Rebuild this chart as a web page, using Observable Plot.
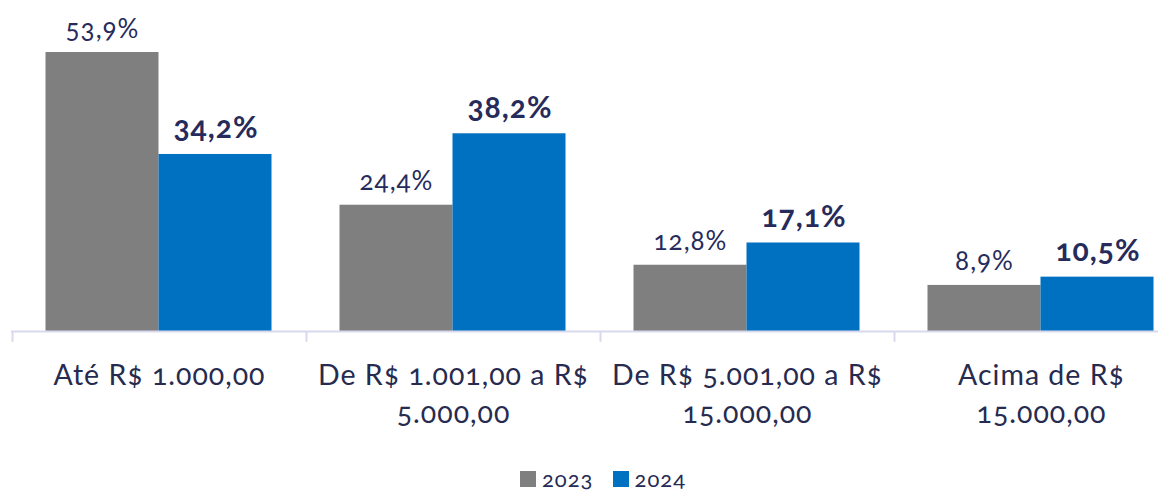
<!DOCTYPE html>
<html>
<head>
<meta charset="utf-8">
<script src="https://cdn.jsdelivr.net/npm/d3@7"></script>
<script src="https://cdn.jsdelivr.net/npm/@observablehq/plot@0.6"></script>
<style>
  html, body { margin: 0; padding: 0; background: #fff; }
  #chart { position: relative; width: 1176px; height: 493px; overflow: hidden; font-family: Lato, "Open Sans", sans-serif; }
  #legend { position: absolute; left: 0; top: 467px; width: 1176px; height: 24px; line-height: 24px; display: flex; justify-content: center; align-items: center; gap: 19px; font-family: Lato, sans-serif; font-size: 22px; letter-spacing: 1px; color: #262b55; padding-left: 30px; box-sizing: border-box; font-variant-numeric: oldstyle-nums; }
  #legend .item { display: flex; align-items: center; gap: 6px; }
  #legend .sw { width: 16px; height: 16px; display: inline-block; }
</style>
</head>
<body>
<div id="chart"></div>
<script>
const categories = ["Até R$ 1.000,00", "De R$ 1.001,00 a R$ 5.000,00", "De R$ 5.001,00 a R$ 15.000,00", "Acima de R$ 15.000,00"];
const categoryLabels = ["Até R$ 1.000,00", "De R$ 1.001,00 a R$\n5.000,00", "De R$ 5.001,00 a R$\n15.000,00", "Acima de R$\n15.000,00"];
const series = ["2023", "2024"];
const values2023 = [53.9, 24.4, 12.8, 8.9];
const values2024 = [34.2, 38.2, 17.1, 10.5];
const colors = ["#7f7f7f", "#0070c0"];

const fmt = v => v.toFixed(1).replace(".", ",") + "%";
const rows2023 = categories.map((c, i) => ({cat: c, value: values2023[i], label: categoryLabels[i]}));
const rows2024 = categories.map((c, i) => ({cat: c, value: values2024[i], label: categoryLabels[i]}));

const base = 331;
const pxPerUnit = 5.176;
const band = 294;
const axisColor = "#d9d9ee";

const plot = Plot.plot({
  width: 1176,
  height: 460,
  marginLeft: 0, marginRight: 0, marginTop: 0, marginBottom: 0,
  style: {fontFamily: "Lato, 'Open Sans', sans-serif", overflow: "visible", fontVariantNumeric: "oldstyle-nums", letterSpacing: "1px"},
  x: {type: "band", domain: categories, range: [12, 12 + band * 4], padding: 0, axis: null},
  y: {domain: [0, 60], range: [base, base - 60 * pxPerUnit], axis: null},
  marks: [
    Plot.barY(rows2023, {x: "cat", y: "value", fill: colors[0], insetLeft: 33.5, insetRight: 147.5}),
    Plot.barY(rows2024, {x: "cat", y: "value", fill: colors[1], insetLeft: 146.5, insetRight: 34.5}),
    Plot.text(rows2023, {x: "cat", y: "value", text: d => fmt(d.value), dx: -57, dy: -15, lineAnchor: "bottom", fontSize: 26, fill: "#262b5c"}),
    Plot.text(rows2024, {x: "cat", y: "value", text: d => fmt(d.value), dx: 56.5, dy: -16, lineAnchor: "bottom", fontSize: 30, fontWeight: "bold", fill: "#262b5c"}),
    Plot.ruleY([0], {insetLeft: 11, insetRight: 18, stroke: axisColor, strokeWidth: 2}),
    Plot.ruleX(categories, {x: d => d, dx: -band / 2, y1: 0, y2: -2.1, stroke: axisColor, strokeWidth: 2}),
    Plot.text(rows2023, {x: "cat", y: () => 0, text: "label", dy: 26, lineAnchor: "top", fontSize: 28.5, lineHeight: 1.34, fill: "#262b4f"})
  ]
});
document.getElementById("chart").appendChild(plot);

const legend = document.createElement("div");
legend.id = "legend";
series.forEach((s, i) => {
  const it = document.createElement("span");
  it.className = "item";
  it.innerHTML = `<span class="sw" style="background:${colors[i]}"></span><span>${s}</span>`;
  legend.appendChild(it);
});
document.getElementById("chart").appendChild(legend);
</script>
</body>
</html>
